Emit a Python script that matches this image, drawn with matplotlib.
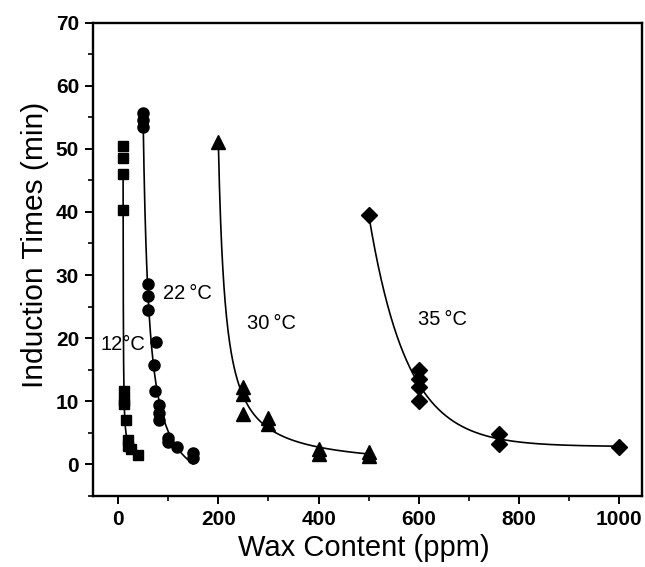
import numpy as np
import matplotlib
matplotlib.use("Agg")
import matplotlib.pyplot as plt

plt.rcParams['font.family'] = ['Liberation Sans', 'DejaVu Sans']

# ---- data ----
x_12 = [10, 10, 10, 10, 12, 12, 12, 15, 20, 20, 25, 40]
y_12 = [50.5, 48.5, 46.0, 40.3, 11.7, 10.0, 9.5, 7.0, 3.8, 3.0, 2.5, 1.5]

x_22 = [50, 50, 50, 60, 60, 60, 75, 72, 74, 82, 82, 82, 100, 100, 118, 150, 150]
y_22 = [55.6, 54.5, 53.4, 28.6, 26.7, 24.5, 19.4, 15.8, 11.7, 9.4, 8.1, 7.0, 4.2, 3.6, 2.7, 1.8, 1.0]

x_30 = [200, 250, 250, 250, 300, 300, 400, 400, 500, 500]
y_30 = [51.0, 12.2, 11.1, 8.0, 7.3, 6.4, 2.5, 1.6, 2.0, 1.4]

x_35 = [500, 600, 600, 600, 600, 760, 760, 1000]
y_35 = [39.5, 14.9, 13.6, 12.2, 10.1, 4.9, 3.3, 2.8]

labels = ['12°C', '22\u2009°C', '30\u2009°C', '35\u2009°C']
label_x = [-36, 90, 257, 598]
label_y = [19.0, 27.1, 22.4, 22.9]

x_ticks = [0, 200, 400, 600, 800, 1000]
y_ticks = [0, 10, 20, 30, 40, 50, 60, 70]


def fit_hyperbola(x, y):
    x = np.asarray(x, float)
    y = np.asarray(y, float)
    span = x.max() - x.min()
    best = None
    for x0 in x.min() - np.linspace(0.01, 2.0, 4000) * span:
        A = np.column_stack([1.0 / (x - x0), np.ones_like(x)])
        coef, *_ = np.linalg.lstsq(A, y, rcond=None)
        sse = np.sum((A @ coef - y) ** 2)
        if best is None or sse < best[0]:
            best = (sse, x0, coef)
    _, x0, (a, c) = best
    xs = np.linspace(x.min(), x.max(), 400)
    return xs, a / (xs - x0) + c


def fit_exp(x, y):
    x = np.asarray(x, float)
    y = np.asarray(y, float)
    best = None
    for t in np.linspace(5, 1000, 4000):
        A = np.column_stack([np.exp(-(x - x.min()) / t), np.ones_like(x)])
        coef, *_ = np.linalg.lstsq(A, y, rcond=None)
        sse = np.sum((A @ coef - y) ** 2)
        if best is None or sse < best[0]:
            best = (sse, t, coef)
    _, t, (a, c) = best
    xs = np.linspace(x.min(), x.max(), 400)
    return xs, a * np.exp(-(xs - x.min()) / t) + c


fig = plt.figure(figsize=(6.45, 5.67), dpi=100)
ax = fig.add_axes([0.1442, 0.1252, 0.9953 - 0.1442, 0.9603 - 0.1252])

series = [
    (x_12, y_12, 's', 7.0, fit_hyperbola),
    (x_22, y_22, 'o', 8.0, fit_hyperbola),
    (x_30, y_30, '^', 10.0, fit_hyperbola),
    (x_35, y_35, 'D', 8.5, fit_exp),
]
for xs_, ys_, mk, ms, fitter in series:
    cx, cy = fitter(xs_, ys_)
    ax.plot(cx, cy, color='black', lw=1.2, zorder=2)
    ax.plot(xs_, ys_, linestyle='none', marker=mk, markersize=ms,
            color='black', zorder=3)

for t, lx, ly in zip(labels, label_x, label_y):
    ax.text(lx, ly, t, fontsize=14.5, ha='left', va='center')

ax.set_xlim(-50, 1045)
ax.set_ylim(-5, 70)
ax.set_xticks(x_ticks)
ax.set_yticks(y_ticks)
ax.set_xticks(np.arange(100, 1001, 200), minor=True)
ax.set_yticks(np.arange(-5, 71, 10), minor=True)
ax.tick_params(which='major', direction='out', length=6, width=1.4,
               labelsize=15, pad=4)
ax.tick_params(which='minor', direction='out', length=3.5, width=1.2)
for lab in ax.get_xticklabels() + ax.get_yticklabels():
    lab.set_fontweight('bold')
for sp in ax.spines.values():
    sp.set_linewidth(1.7)

xl = ax.set_xlabel('Wax Content (ppm)', fontsize=21)
xl.set_va('center')
ax.xaxis.set_label_coords(0.494, -0.110)
yl = ax.set_ylabel('Induction Times (min)', fontsize=21.5)
yl.set_va('center')
ax.yaxis.set_label_coords(-0.106, 0.530)

fig.savefig('out.png', dpi=100)
